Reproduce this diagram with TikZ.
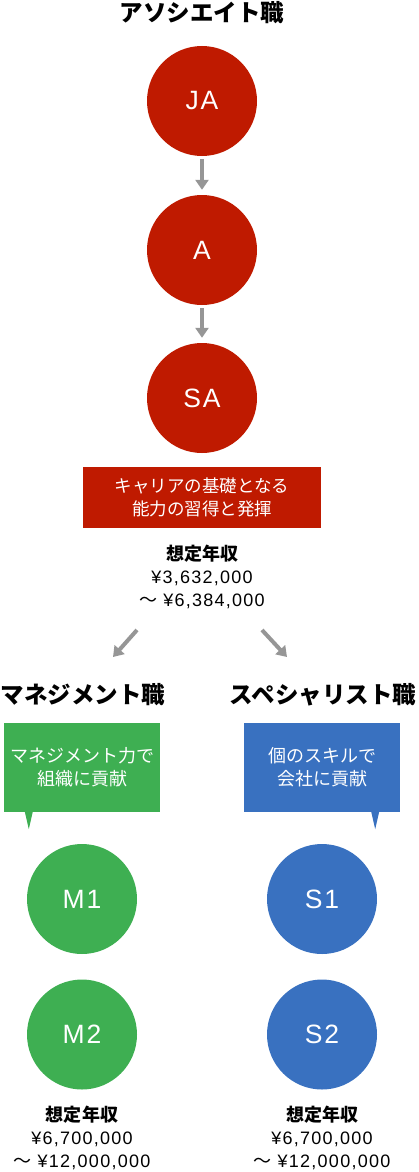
\documentclass[tikz,border=0pt]{standalone}
\usepackage{fontspec}
\setmainfont{Noto Sans CJK JP}
\newfontfamily\latinfont[LetterSpace=7]{Liberation Sans}
\usetikzlibrary{calc}
\usetikzlibrary{arrows.meta}
\definecolor{assoc-red}{RGB}{191,26,0}
\definecolor{mgmt-green}{RGB}{62,175,82}
\definecolor{spec-blue}{RGB}{57,113,192}
\definecolor{arrow-gray}{RGB}{150,150,150}
\tikzstyle{grade}=[circle,minimum size=110pt,inner sep=0pt,text=white,font=\fontsize{26.5}{26}\latinfont]
\tikzstyle{track}=[inner sep=0pt,font=\bfseries\fontsize{23.5}{26}\selectfont]
\tikzstyle{pay}=[inner sep=0pt,align=center,font=\fontsize{18}{23}\selectfont]
\tikzstyle{bubble}=[minimum width=156pt,minimum height=89pt,inner sep=0pt,align=center,text=white,font=\fontsize{18}{23}\selectfont]
\tikzstyle{gradearrow}=[arrow-gray,line width=4pt,-{Triangle[length=10pt,width=13pt]}]
\newcommand{\salary}[4]{% name, position, from, to
	\node[pay] (#1) at (#2) {{\bfseries 想定年収}\\{\latinfont ¥#3}\\～\hspace{6pt}{\latinfont ¥#4}};
}

\begin{document}
\begin{tikzpicture}[x=1pt,y=-1pt]
\useasboundingbox (0,0) rectangle (418,1172);
% associate track
\node[track] (assoc) at (202,13) {アソシエイト職};
\node[grade,fill=assoc-red] (JA) at (202,101) {JA};
\node[grade,fill=assoc-red] (A) at (202,250) {A};
\node[grade,fill=assoc-red] (SA) at (202,398) {SA};
\draw[gradearrow,shorten <=3pt,shorten >=5pt] (JA) -- (A);
\draw[gradearrow,shorten <=3pt,shorten >=5pt] (A) -- (SA);
\node[fill=assoc-red,minimum width=238pt,minimum height=61pt,inner sep=0pt,align=center,text=white,font=\fontsize{17.5}{23}\selectfont] (basis) at (202,497.5) {キャリアの基礎となる\\能力の習得と発揮};
\salary{assocpay}{202,577}{3,632,000}{6,384,000}
% split
\coordinate (mfrom) at (137,630);
\coordinate (mto) at (113,657);
\coordinate (sfrom) at (262,630);
\coordinate (sto) at (287,657);
\draw[gradearrow] (mfrom) -- (mto);
\draw[gradearrow] (sfrom) -- (sto);
% management track
\node[track] (mgmt) at (83,695) {マネジメント職};
\node[bubble,fill=mgmt-green] (mbox) at (82,767.5) {マネジメント力で\\組織に貢献};
\fill[mgmt-green] ($(mbox.south west)+(21,-0.5)$) -- ++(4,17.5) -- ++(4,-17.5) -- cycle;
\node[grade,fill=mgmt-green] (M1) at (82,899) {M1};
\node[grade,fill=mgmt-green] (M2) at (82,1034.5) {M2};
\salary{mgmtpay}{82,1138}{6,700,000}{12,000,000}
% specialist track
\node[track] (spec) at (323,695) {スペシャリスト職};
\node[bubble,fill=spec-blue] (sbox) at (322,767.5) {個のスキルで\\会社に貢献};
\fill[spec-blue] ($(sbox.south east)+(-29,-0.5)$) -- ++(4,17.5) -- ++(4,-17.5) -- cycle;
\node[grade,fill=spec-blue] (S1) at (322,899) {S1};
\node[grade,fill=spec-blue] (S2) at (322,1034.5) {S2};
\salary{specpay}{322,1138}{6,700,000}{12,000,000}
\end{tikzpicture}
\end{document}
